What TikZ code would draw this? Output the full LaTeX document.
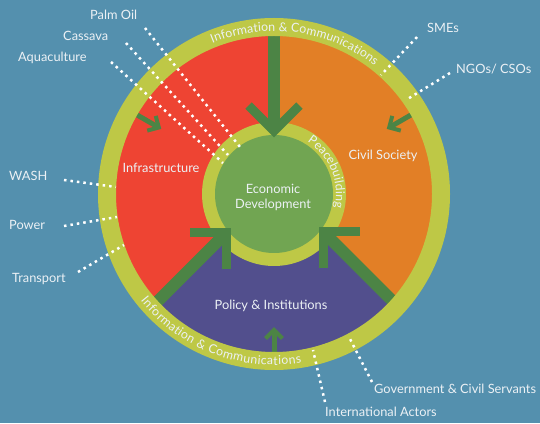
\documentclass[tikz,border=0pt]{standalone}
\usepackage{fontspec}
\setmainfont{Lato}
\usetikzlibrary{calc}
\definecolor{bgblue}{RGB}{84,144,174}
\definecolor{ringyel}{RGB}{190,200,70}
\definecolor{secred}{RGB}{238,68,51}
\definecolor{secorange}{RGB}{226,127,38}
\definecolor{secpurple}{RGB}{82,79,141}
\definecolor{coregreen}{RGB}{113,165,82}
\definecolor{arrowgreen}{RGB}{76,132,69}
\definecolor{labelwhite}{RGB}{236,241,245}
\newcommand\ringfont{\fontsize{12.3}{14}\selectfont}
\newlength\chw
% #1 radius, #2 mid angle, #3 sign (-1 clockwise/tops outward, 1 ccw/tops inward), #4 char list, #5 angular span
\newcommand\arctext[5]{%
  \xdef\arctot{0}\xdef\arcn{0}%
  \foreach \ch in {#4}{%
    \settowidth{\chw}{\ringfontcs\ch}%
    \pgfmathsetmacro\arctmp{\arctot+\chw}%
    \xdef\arctot{\arctmp}%
    \pgfmathsetmacro\arctmp{\arcn+1}%
    \xdef\arcn{\arctmp}%
  }%
  \pgfmathsetmacro\arctrack{((#5)*pi/180*(#1)-\arctot)/\arcn}%
  \pgfmathsetmacro\arcstart{#2-(#3)*(#5)/2}%
  \xdef\arccur{\arcstart}%
  \foreach \ch in {#4}{%
    \settowidth{\chw}{\ringfontcs\ch}%
    \pgfmathsetmacro\archalf{(\chw+\arctrack)/2/(#1)*180/pi}%
    \pgfmathsetmacro\arcA{\arccur+(#3)*\archalf}%
    \pgfmathsetmacro\arcR{\arcA+(#3)*90}%
    \node[ringchar, rotate=\arcR] at ([shift={(\arcA:#1)}]C) {\ch};
    \pgfmathsetmacro\arctmp{\arccur+(#3)*2*\archalf}%
    \xdef\arccur{\arctmp}%
  }%
}
\begin{document}
{\ringfont\expandafter\global\expandafter\let\expandafter\ringfontcs\the\font}%
\begin{tikzpicture}[x=1pt,y=1pt,
  lbl/.style={text=labelwhite, font=\fontsize{12.8}{15}\selectfont, inner sep=0pt},
  ringchar/.style={text=labelwhite, font=\ringfont, inner sep=0pt, anchor=base},
  dotline/.style={draw=white, line width=2.5pt, dash pattern=on 2.5pt off 4pt},
  bigshaft/.style={draw=arrowgreen, line width=12pt},
  bighead/.style={draw=arrowgreen, line width=9pt, line join=miter, miter limit=10},
  smallshaft/.style={draw=arrowgreen, line width=5pt},
  smallhead/.style={draw=arrowgreen, line width=4pt, line join=miter, miter limit=10}
]
\useasboundingbox (0,0) rectangle (540,423);
\fill[bgblue] (0,0) rectangle (540,423);
\coordinate (C) at (274,229);

% sectors
\fill[secred] (C) -- ([shift={(90:166)}]C) arc[start angle=90,end angle=222.7,radius=166] -- cycle;
\fill[secpurple] (C) -- ([shift={(222.7:166)}]C) arc[start angle=222.7,end angle=317.95,radius=166] -- cycle;
\fill[secorange] (C) -- ([shift={(-42.05:166)}]C) arc[start angle=-42.05,end angle=90,radius=166] -- cycle;

% core
\fill[ringyel] (C) circle[radius=72];
\fill[coregreen] (C) circle[radius=59];

% big arrows
\coordinate (TB) at (274,392); \coordinate (TV) at (274,292);
\coordinate (LB) at (154,118); \coordinate (LV) at (226,190);
\coordinate (RB) at (395.5,119); \coordinate (RV) at (323.5,191);
\foreach \sb/\sv in {TB/TV,LB/LV,RB/RV}{
  \draw[bigshaft] (\sb) -- (\sv);
  \draw[bighead] ($(\sv)!36pt!45:(\sb)$) -- (\sv) -- ($(\sv)!36pt!-45:(\sb)$);
}

% small arrows
\coordinate (SLB) at ([shift={(150:166)}]C); \coordinate (SLV) at ([shift={(150:133)}]C);
\coordinate (SRB) at ([shift={(30:166)}]C);  \coordinate (SRV) at ([shift={(30:133)}]C);
\coordinate (SDB) at ([shift={(270:166)}]C); \coordinate (SDV) at ([shift={(270:136)}]C);
\foreach \sb/\sv in {SLB/SLV,SRB/SRV,SDB/SDV}{
  \draw[smallshaft] (\sb) -- (\sv);
  \draw[smallhead] ($(\sv)!12pt!45:(\sb)$) -- (\sv) -- ($(\sv)!12pt!-45:(\sb)$);
}

% outer ring
\fill[ringyel, even odd rule] (C) circle[radius=176] (C) circle[radius=158];

% ring texts
\arctext{163}{82}{-1}{I,n,f,o,r,m,a,t,i,o,n,\ ,\&,\ ,C,o,m,m,u,n,i,c,a,t,i,o,n,s}{60.4}
\arctext{171}{249}{1}{I,n,f,o,r,m,a,t,i,o,n,\ ,\&,\ ,C,o,m,m,u,n,i,c,a,t,i,o,n,s}{60.8}
\arctext{62}{22.5}{-1}{P,e,a,c,e,b,u,i,l,d,i,n,g}{70}

% labels
\node[lbl, anchor=mid west] (palm) at (90,406) {Palm Oil};
\node[lbl, anchor=mid west] (cass) at (63,385) {Cassava};
\node[lbl, anchor=mid west] (aqua) at (18,364) {Aquaculture};
\node[lbl, anchor=mid west] (wash) at (9,245) {WASH};
\node[lbl, anchor=mid west] (power) at (9,196) {Power};
\node[lbl, anchor=mid west] (trans) at (12,143) {Transport};
\node[lbl, anchor=mid west] (sme) at (427,393) {SMEs};
\node[lbl, anchor=mid west] (ngo) at (456,352) {NGOs/ CSOs};
\node[lbl, anchor=mid west] (gov) at (374,32) {Government \& Civil Servants};
\node[lbl, anchor=mid west] (intl) at (325,9) {International Actors};
\node[lbl, anchor=mid] (infra) at (161,253) {Infrastructure};
\node[lbl, anchor=mid] (civil) at (383,266) {Civil Society};
\node[lbl, anchor=mid] (policy) at (271,116) {Policy \& Institutions};
\node[lbl, align=center] (econ) at (273,226) {Economic\\Development};

% dotted connectors
\coordinate (palmA) at (145,395); \coordinate (palmB) at (240,276);
\coordinate (cassA) at (126,380); \coordinate (cassB) at (228,268);
\coordinate (aquaA) at (111,361); \coordinate (aquaB) at (223,260);
\coordinate (washA) at (64,243);  \coordinate (washB) at (116,236);
\coordinate (powA) at (64,197);   \coordinate (powB) at (117,206);
\coordinate (transA) at (78,151); \coordinate (transB) at (124,178);
\coordinate (smeA) at (417,386);  \coordinate (smeB) at (381,348);
\coordinate (ngoA) at (450,350);  \coordinate (ngoB) at (406,323);
\coordinate (govA) at (372,41);   \coordinate (govB) at (349,86);
\coordinate (intA) at (325,21);   \coordinate (intB) at (313,73);
\foreach \sa/\sb in {palmA/palmB,cassA/cassB,aquaA/aquaB,washA/washB,powA/powB,transA/transB,smeA/smeB,ngoA/ngoB,govA/govB,intA/intB}{
  \draw[dotline] (\sa) -- (\sb);
}
\end{tikzpicture}
\end{document}
